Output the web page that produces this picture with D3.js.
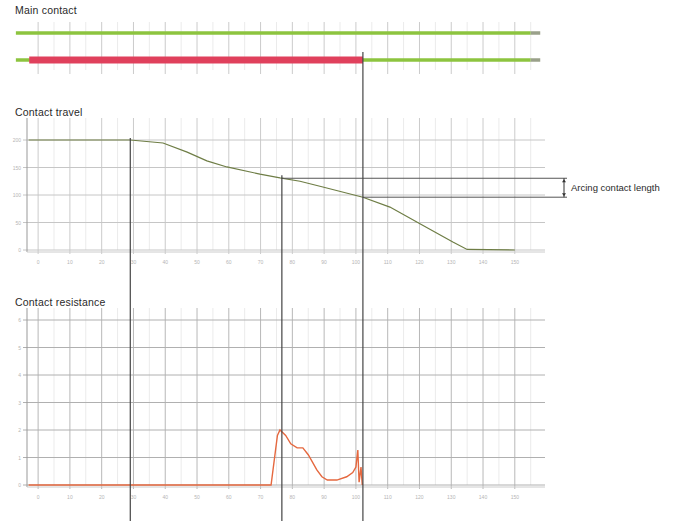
<!DOCTYPE html>
<html>
<head>
<meta charset="utf-8">
<script src="https://cdn.jsdelivr.net/npm/d3@7"></script>
<style>
  body { margin: 0; background: #fff; }
  svg { display: block; font-family: "Liberation Sans", Arial, sans-serif; }
</style>
</head>
<body>
<svg id="chart"></svg>
<script>
// time axis (ms) shared by all three panels
const xTicks = d3.range(0, 160, 10);
const markerTimes = [29, 76.7, 102.2];

// main contact states
const contactLines = ["closed", "open"];
const redStart = -2.8;   // red bar from here to the last marker

// contact travel (mm)
const travelTime = [-3, 29, 39.3, 46.9, 53.1, 59.4, 69.8, 76.1, 82.4, 89.6, 102.2, 110.7, 121, 130.5, 135, 150];
const travelValue = [200, 200, 194.5, 178, 162, 151, 138, 131, 125, 114.5, 96, 78, 45, 14.5, 1, 0];
const travelTicks = [0, 50, 100, 150, 200];

// contact resistance
const resTime = [-3, 73.3, 75.3, 76.1, 77.9, 79.5, 81.5, 83.3, 85, 87.7, 89.3, 91, 94, 97.1, 99, 100, 100.6, 101, 101.6, 102];
const resValue = [0, 0, 1.8, 2.0, 1.8, 1.5, 1.35, 1.35, 1.1, 0.55, 0.3, 0.18, 0.18, 0.3, 0.45, 0.65, 1.27, 0.1, 0.65, 0];
const resTicks = [0, 1, 2, 3, 4, 5, 6];

const width = 699;
const height = 521;

const svg = d3.select("#chart")
    .attr("width", width)
    .attr("height", height);

const x = d3.scaleLinear()
    .domain([-3.5, 159.5])
    .range([27, 545]);

const yTravel = d3.scaleLinear()
    .domain([0, 200])
    .range([250, 140]);

const yRes = d3.scaleLinear()
    .domain([0, 6])
    .range([485, 320]);

const minorTicks = d3.range(5, 160, 10);

// grid for a panel
function grid(top, bottom, y, yTicks, strong) {
    const g = svg.append("g");
    g.selectAll(".minor")
        .data(minorTicks)
        .join("line")
        .attr("x1", d => x(d)).attr("x2", d => x(d))
        .attr("y1", top).attr("y2", bottom)
        .attr("stroke", "#ebebeb");
    g.selectAll(".major")
        .data(xTicks)
        .join("line")
        .attr("x1", d => x(d)).attr("x2", d => x(d))
        .attr("y1", top).attr("y2", bottom + 4)
        .attr("stroke", strong ? "#b8b8b8" : "#cbcbcb");
    if (y) {
        g.selectAll(".hline")
            .data(yTicks)
            .join("line")
            .attr("x1", x.range()[0] - 4).attr("x2", x.range()[1])
            .attr("y1", d => y(d)).attr("y2", d => y(d))
            .attr("stroke", strong ? "#b0b0b0" : "#c6c6c6");
        // axes
        g.append("line")
            .attr("x1", x.range()[0]).attr("x2", x.range()[0])
            .attr("y1", top).attr("y2", bottom + 2)
            .attr("stroke", "#999");
        g.append("line")
            .attr("x1", x.range()[0]).attr("x2", x.range()[1])
            .attr("y1", bottom + 2).attr("y2", bottom + 2)
            .attr("stroke", "#ccc");
        g.selectAll(".xl")
            .data(xTicks)
            .join("text")
            .attr("x", d => x(d))
            .attr("y", bottom + 14)
            .attr("text-anchor", "middle")
            .attr("font-size", 5)
            .attr("fill", "#b5b5b5")
            .text(d => d);
        g.selectAll(".yl")
            .data(yTicks)
            .join("text")
            .attr("x", x.range()[0] - 6)
            .attr("y", d => y(d) + 2)
            .attr("text-anchor", "end")
            .attr("font-size", 5)
            .attr("fill", "#b5b5b5")
            .text(d => d);
    }
}

function title(text, yPos) {
    svg.append("text")
        .attr("x", 15)
        .attr("y", yPos)
        .attr("font-size", 10.5)
        .attr("letter-spacing", 0.2)
        .attr("fill", "#2a2a2a")
        .text(text);
}

// ---- main contact ----
title("Main contact", 14);
grid(22, 70, null);

const contactY = d3.scalePoint().domain(contactLines).range([33, 60]);

svg.append("g")
    .selectAll("line")
    .data(contactLines)
    .join("line")
    .attr("x1", x(-7)).attr("x2", x(155))
    .attr("y1", d => contactY(d)).attr("y2", d => contactY(d))
    .attr("stroke", "#8dc43f")
    .attr("stroke-width", 3.5);

svg.append("g")
    .selectAll("line")
    .data(contactLines)
    .join("line")
    .attr("x1", x(155)).attr("x2", x(158))
    .attr("y1", d => contactY(d)).attr("y2", d => contactY(d))
    .attr("stroke", "#9aa08a")
    .attr("stroke-width", 3.5);

svg.append("rect")
    .attr("x", x(redStart))
    .attr("y", contactY("open") - 3.5)
    .attr("width", x(markerTimes[2]) - x(redStart))
    .attr("height", 7)
    .attr("fill", "#e0405c");

// ---- contact travel ----
title("Contact travel", 116);
grid(118, 250, yTravel, travelTicks, false);

const travelData = travelTime.map((t, i) => ({ t: t, v: travelValue[i] }));
const travelLine = d3.line().x(d => x(d.t)).y(d => yTravel(d.v));

svg.append("path")
    .datum(travelData)
    .attr("d", travelLine)
    .attr("fill", "none")
    .attr("stroke", "#6e7d45")
    .attr("stroke-width", 1.2);

// travel at a given time
const travelAt = t => {
    const i = d3.bisectRight(travelTime, t);
    const t0 = travelTime[i - 1], t1 = travelTime[i];
    const v0 = travelValue[i - 1], v1 = travelValue[i];
    return v0 + (v1 - v0) * (t - t0) / (t1 - t0);
};

const arcTop = travelAt(markerTimes[1]);
const arcBottom = travelAt(markerTimes[2]);
const bracketX = 564;

svg.append("line")
    .attr("x1", x(markerTimes[1])).attr("x2", bracketX + 3)
    .attr("y1", yTravel(arcTop)).attr("y2", yTravel(arcTop))
    .attr("stroke", "#555").attr("stroke-width", 1);
svg.append("line")
    .attr("x1", x(markerTimes[2])).attr("x2", bracketX + 3)
    .attr("y1", yTravel(arcBottom)).attr("y2", yTravel(arcBottom))
    .attr("stroke", "#555").attr("stroke-width", 1);

svg.append("line")
    .attr("x1", bracketX).attr("x2", bracketX)
    .attr("y1", yTravel(arcTop)).attr("y2", yTravel(arcBottom))
    .attr("stroke", "#333").attr("stroke-width", 1);
svg.append("path")
    .attr("d", `M${bracketX - 2},${yTravel(arcTop) + 4}L${bracketX},${yTravel(arcTop) + 1}L${bracketX + 2},${yTravel(arcTop) + 4}Z`
        + `M${bracketX - 2},${yTravel(arcBottom) - 4}L${bracketX},${yTravel(arcBottom) - 1}L${bracketX + 2},${yTravel(arcBottom) - 4}Z`)
    .attr("fill", "#333");

svg.append("text")
    .attr("x", 571)
    .attr("y", (yTravel(arcTop) + yTravel(arcBottom)) / 2 + 3.5)
    .attr("font-size", 9.5)
    .attr("fill", "#2a2a2a")
    .text("Arcing contact length");

// ---- contact resistance ----
title("Contact resistance", 306);
grid(308, 485, yRes, resTicks, true);

const resData = resTime.map((t, i) => ({ t: t, v: resValue[i] }));
const resLine = d3.line().x(d => x(d.t)).y(d => yRes(d.v));

svg.append("path")
    .datum(resData)
    .attr("d", resLine)
    .attr("fill", "none")
    .attr("stroke", "#e5683f")
    .attr("stroke-width", 1.4);

// ---- timing markers ----
const markerStart = [yTravel(travelAt(markerTimes[0])) - 2, yTravel(arcTop) - 3, contactY("open") - 8];

svg.append("g")
    .selectAll("line")
    .data(markerTimes)
    .join("line")
    .attr("x1", d => x(d)).attr("x2", d => x(d))
    .attr("y1", (d, i) => markerStart[i])
    .attr("y2", height)
    .attr("stroke", "#444")
    .attr("stroke-width", 1.2);
</script>
</body>
</html>
